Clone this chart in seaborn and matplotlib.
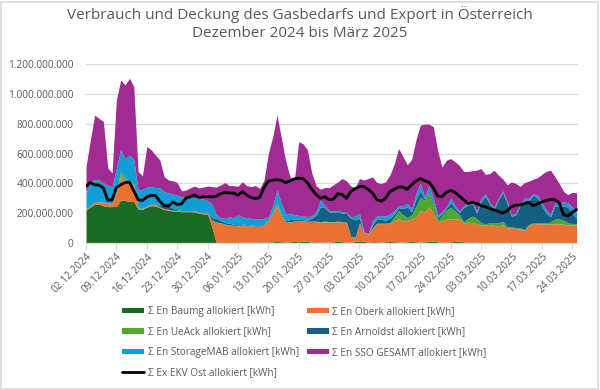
import numpy as np
import pandas as pd
import matplotlib
matplotlib.use("Agg")
import matplotlib.pyplot as plt
import matplotlib.ticker as mticker
from matplotlib.patches import Patch, Rectangle
from matplotlib.lines import Line2D
import seaborn as sns

# ---------------- data (million kWh per day) ----------------
start_date = "2024-12-02"

baumg = [221, 240, 262, 260, 250, 244, 244, 246, 288, 284, 280, 278, 228, 226, 240, 250, 248, 236, 224, 220,
         214, 212, 210, 210, 210, 208, 200, 195, 195, 110,
         0, 0, 2, 2, 3, 3, 5, 5, 4, 6, 8, 6, 5, 8, 10, 8, 6,
         8, 10, 8, 12, 10, 6, 8, 5, 5, 6, 8, 12, 8, 6, 5, 10, 15,
         12, 6, 8, 8, 6, 8, 10, 8, 6, 6, 8, 10, 8, 6, 8, 10, 12, 8, 6, 6,
         8, 10, 12, 8, 6, 8, 5,
         0, 0, 0, 0, 0, 0, 0, 0, 0, 0, 0, 0, 0, 0, 0, 0, 0, 0, 0, 0, 0, 0, 0]

oberk = [5, 8, 12, 15, 20, 20, 18, 90, 162, 134, 130, 112, 4, 4, 6, 8, 8, 5, 5, 5,
         4, 4, 4, 4, 4, 4, 5, 5, 8, 40,
         140, 135, 123, 119, 115, 112, 115, 113, 111, 106, 104, 115, 145, 192, 240, 172, 134,
         133, 135, 140, 134, 133, 139, 135, 135, 137, 134, 133, 131, 133, 129, 35, 28, 115,
         58, 54, 92, 122, 124, 122, 122, 142, 157, 139, 144, 150, 167, 213, 197, 232, 188, 133, 144, 154,
         155, 150, 148, 126, 134, 128, 123, 121, 119, 125, 118, 110, 125, 98, 105, 95, 95, 85, 119, 130,
         128, 130, 128, 126, 130, 128, 126, 121, 120, 118]

ueack = [0, 0, 2, 2, 3, 3, 2, 5, 30, 12, 8, 5, 1, 1, 1, 1, 1, 1, 1, 1,
         1, 1, 1, 1, 1, 1, 1, 1, 1, 1,
         1, 1, 1, 1, 1, 1, 1, 1, 1, 1, 1, 1, 2, 5, 15, 5, 2,
         2, 2, 2, 2, 2, 2, 3, 3, 5, 3, 3, 3, 3, 3, 2, 2, 5,
         0, 0, 3, 3, 3, 3, 5, 25, 55, 45, 20, 30, 70, 90, 80, 95, 60, 15, 30, 60,
         75, 55, 30, 10, 25, 45, 35, 15, 10, 10, 20, 25, 20, 10, 5, 5, 5, 5, 5, 5,
         5, 5, 5, 15, 30, 35, 25, 15, 10, 10]

arnoldst = [2, 2, 2, 2, 2, 2, 2, 2, 2, 2, 2, 2, 2, 2, 2, 2, 2, 10, 20, 25,
            15, 5, 3, 3, 3, 3, 3, 3, 3, 20,
            25, 15, 12, 10, 8, 5, 5, 5, 5, 5, 5, 5, 5, 5, 5, 5, 8,
            15, 12, 10, 8, 8, 20, 40, 100, 90, 65, 60, 65, 55, 60, 125, 115, 30,
            0, 0, 20, 30, 25, 20, 30, 20, 20, 40, 70, 20, 50, 40, 10, 10, 20, 15, 15, 15,
            32, 20, 15, 96, 90, 84, 37, 144, 186, 125, 87, 155, 195, 157, 70, 90, 150, 195, 161, 185,
            172, 115, 67, 34, 90, 82, 99, 104, 70, 37]

storage_mab = [105, 161, 149, 143, 130, 116, 112, 157, 148, 133, 170, 163, 120, 127, 126, 114, 113, 118, 95, 84,
               95, 98, 92, 87, 87, 89, 91, 91, 78, 89,
               24, 19, 27, 43, 43, 67, 49, 46, 44, 42, 42, 38, 18, 40, 85, 76, 45,
               41, 31, 25, 24, 25, 13, 24, 45, 13, 10, 10, 8, 8, 8, 8, 26, 35,
               5, 5, 27, 17, 27, 27, 28, 20, 12, 20, 24, 22, 35, 51, 15, 38, 20, 19, 15, 9,
               30, 15, 10, 10, 15, 15, 15, 20, 15, 10, 15, 10, 10, 15, 10, 10, 10, 15, 15, 10,
               15, 20, 20, 15, 20, 25, 25, 30, 40, 45]

sso_gesamt = [179, 279, 431, 413, 410, 120, 92, 460, 463, 494, 514, 490, 125, 90, 272, 250, 218, 187, 100, 87,
              88, 85, 40, 50, 65, 77, 70, 80, 97, 118,
              185, 219, 240, 210, 215, 192, 236, 215, 213, 225, 207, 255, 426, 460, 503, 439, 355,
              246, 235, 494, 485, 447, 290, 175, 72, 122, 153, 177, 190, 225, 210, 207, 189, 232,
              347, 367, 293, 225, 214, 230, 260, 315, 384, 330, 259, 328, 360, 390, 487, 412, 480, 430, 300, 311,
              266, 295, 305, 230, 210, 205, 273, 199, 130, 196, 248, 155, 80, 110, 220, 199, 120, 105, 115, 98,
              118, 190, 260, 298, 175, 130, 70, 55, 100, 126]

ex_ekv_ost = [381, 405, 390, 388, 370, 288, 288, 372, 390, 405, 408, 350, 290, 285, 308, 320, 318, 280, 250, 248,
              275, 258, 262, 300, 310, 322, 305, 310, 312, 308, 315, 330, 340, 335,
              335, 320, 345, 322, 305, 298, 305, 370, 415, 420,
              425, 420, 405, 415, 430, 435, 430, 405, 360, 325,
              300, 310, 290, 295, 330, 325, 300, 345, 365, 378,
              378, 360, 335, 290, 280, 300, 345, 360, 375, 375,
              360, 390, 415, 432, 418, 408, 370, 315, 310, 340,
              352, 340, 315, 290, 265, 272, 265, 250, 243, 232,
              221, 212, 200, 215, 244, 253, 255, 264, 272, 250,
              262, 275, 285, 292, 290, 270, 190, 180, 205, 224]

area_labels = ["Σ En Baumg allokiert [kWh]", "Σ En Oberk allokiert [kWh]", "Σ En UeAck allokiert [kWh]",
               "Σ En Arnoldst allokiert [kWh]", "Σ En StorageMAB allokiert [kWh]",
               "Σ En SSO GESAMT allokiert [kWh]"]
line_label = "Σ Ex EKV Ost allokiert [kWh]"
area_colors = ["#196B24", "#E97132", "#4EA72E", "#156082", "#0F9ED5", "#A02B93"]
title_text = "Verbrauch und Deckung des Gasbedarfs und Export in Österreich\nDezember 2024 bis März 2025"
y_ticks = [0, 200_000_000, 400_000_000, 600_000_000, 800_000_000, 1_000_000_000, 1_200_000_000]

series = [baumg, oberk, ueack, arnoldst, storage_mab, sso_gesamt]
n = len(ex_ekv_ost)
assert all(len(s) == n for s in series), [len(s) for s in series]

UNIT = 1_000_000
dates = pd.date_range(start_date, periods=n, freq="D")
df = pd.DataFrame({"Datum": dates, "Ex": np.array(ex_ekv_ost) * UNIT})

# ---------------- style ----------------
sns.set_theme(style="white")
FONT = ["Open Sans", "DejaVu Sans"]
plt.rcParams["font.family"] = FONT
TXT = "#595959"

fig = plt.figure(figsize=(6.0, 3.9), dpi=100)
ax = fig.add_axes([86 / 600, 1 - 243 / 390, (578 - 86) / 600, (243 - 64) / 390])

ax.stackplot(dates, *[np.array(s) * UNIT for s in series], colors=area_colors, linewidth=0)
sns.lineplot(data=df, x="Datum", y="Ex", ax=ax, color="black", linewidth=2.0, legend=False)

ax.set_ylim(0, 1_200_000_000)
ax.set_yticks(y_ticks)
ax.yaxis.set_major_formatter(mticker.FuncFormatter(lambda v, p: f"{v:,.0f}".replace(",", ".")))
ax.set_xlim(dates[0], dates[-1] + pd.Timedelta(hours=8))
xt = dates[::7]
ax.set_xticks(xt)
ax.set_xticklabels([d.strftime("%d.%m.%Y") for d in xt], rotation=45, ha="right",
                   rotation_mode="anchor")
ax.set_xlabel("")
ax.set_ylabel("")
ax.grid(axis="y", color="#D9D9D9", linewidth=0.9)
ax.set_axisbelow(True)
for s in ["top", "right", "left"]:
    ax.spines[s].set_visible(False)
ax.spines["bottom"].set_color("#D9D9D9")
ax.spines["bottom"].set_linewidth(0.9)
ax.tick_params(axis="y", length=0, pad=9, labelsize=7.3, labelcolor=TXT)
ax.tick_params(axis="x", length=4, width=0.8, color="#D9D9D9", pad=2, labelsize=7.3, labelcolor=TXT,
               bottom=True)

fig.suptitle(title_text, x=0.5, y=0.985, fontsize=11, color=TXT, linespacing=1.3, va="top")

handles = [Patch(facecolor=c, edgecolor="none") for c in area_colors]
line_handle = Line2D([0], [0], color="black", linewidth=2.0)
order_h = [handles[0], handles[2], handles[4], line_handle, handles[1], handles[3], handles[5]]
order_l = [area_labels[0], area_labels[2], area_labels[4], line_label, area_labels[1], area_labels[3], area_labels[5]]
leg = fig.legend(order_h, order_l, ncol=2, loc="upper left", bbox_to_anchor=(122 / 600, 1 - 306 / 390),
                 frameon=False, fontsize=7.2, handlelength=2.2, handleheight=0.45, handletextpad=0.35,
                 columnspacing=0.8, labelspacing=0.95, borderpad=0, borderaxespad=0)
for t in leg.get_texts():
    t.set_color(TXT)

fig.patches.append(Rectangle((0.002, 0.003), 0.995, 0.993, transform=fig.transFigure, fill=False,
                             edgecolor="#D9D9D9", linewidth=1.2))

fig.savefig("out.png", dpi=100)
